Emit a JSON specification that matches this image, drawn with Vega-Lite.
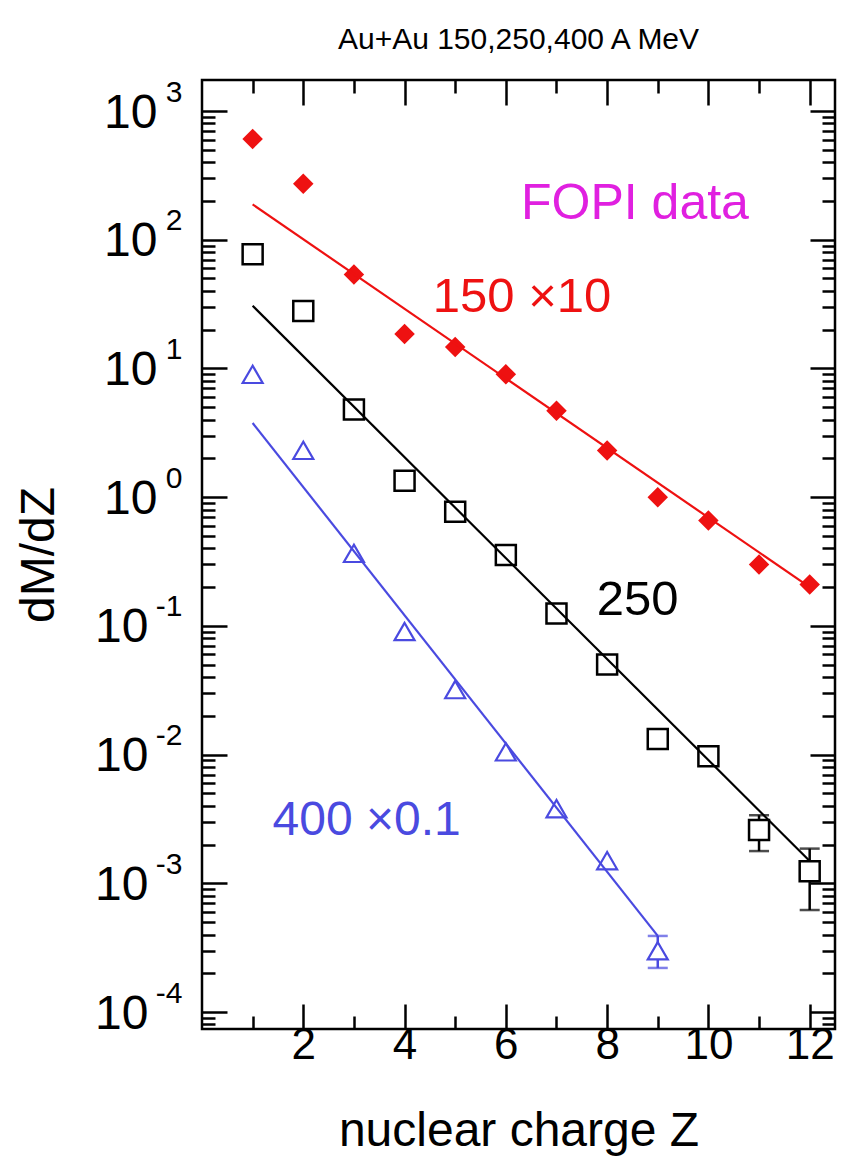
{
  "$schema": "https://vega.github.io/schema/vega-lite/v6.json",
  "width": 633,
  "height": 949,
  "autosize": {"type": "none"},
  "padding": {"left": 202, "top": 80, "right": 9, "bottom": 141},
  "background": "white",
  "title": {"text": "Au+Au 150,250,400 A MeV", "fontSize": 30, "font": "Liberation Sans", "fontWeight": "normal", "anchor": "middle", "offset": 22, "color": "black"},
  "config": {
    "view": {"stroke": "black", "strokeWidth": 2.5},
    "font": "Liberation Sans",
    "axis": {"domain": false, "grid": false, "tickColor": "black", "tickWidth": 2.5, "labelColor": "black", "labelFont": "Liberation Sans", "titleFont": "Liberation Sans", "titleColor": "black", "titleFontWeight": "normal", "labelFlush": false, "labelOverlap": false}
  },
  "datasets": {
    "pts": [
      {"s": "150", "Z": 1, "v": 607}, {"s": "150", "Z": 2, "v": 272}, {"s": "150", "Z": 3, "v": 53.8}, {"s": "150", "Z": 4, "v": 18.5},
      {"s": "150", "Z": 5, "v": 14.7}, {"s": "150", "Z": 6, "v": 9.0}, {"s": "150", "Z": 7, "v": 4.7}, {"s": "150", "Z": 8, "v": 2.3},
      {"s": "150", "Z": 9, "v": 1.0}, {"s": "150", "Z": 10, "v": 0.66}, {"s": "150", "Z": 11, "v": 0.30}, {"s": "150", "Z": 12, "v": 0.21},
      {"s": "250", "Z": 1, "v": 77}, {"s": "250", "Z": 2, "v": 28}, {"s": "250", "Z": 3, "v": 4.8}, {"s": "250", "Z": 4, "v": 1.34},
      {"s": "250", "Z": 5, "v": 0.77}, {"s": "250", "Z": 6, "v": 0.355}, {"s": "250", "Z": 7, "v": 0.125}, {"s": "250", "Z": 8, "v": 0.05},
      {"s": "250", "Z": 9, "v": 0.0132}, {"s": "250", "Z": 10, "v": 0.0097}, {"s": "250", "Z": 11, "v": 0.00259}, {"s": "250", "Z": 12, "v": 0.00124},
      {"s": "400", "Z": 1, "v": 9.0}, {"s": "400", "Z": 2, "v": 2.31}, {"s": "400", "Z": 3, "v": 0.366}, {"s": "400", "Z": 4, "v": 0.0904},
      {"s": "400", "Z": 5, "v": 0.032}, {"s": "400", "Z": 6, "v": 0.0105}, {"s": "400", "Z": 7, "v": 0.0038}, {"s": "400", "Z": 8, "v": 0.0015},
      {"s": "400", "Z": 9, "v": 0.000299}
    ],
    "fit": [
      {"s": "150", "Z": 1, "v": 188}, {"s": "150", "Z": 12, "v": 0.20},
      {"s": "250", "Z": 1, "v": 30.7}, {"s": "250", "Z": 12, "v": 0.00149},
      {"s": "400", "Z": 1, "v": 3.77}, {"s": "400", "Z": 9, "v": 0.00039}
    ],
    "err": [
      {"s": "250", "Z": 11, "lo": 0.00178, "hi": 0.00338},
      {"s": "250", "Z": 12, "lo": 0.00062, "hi": 0.00186},
      {"s": "400", "Z": 9, "lo": 0.00022, "hi": 0.00039}
    ],
    "one": [{}]
  },
  "resolve": {"axis": {"x": "independent", "y": "independent"}},
  "layer": [
    {
      "data": {"name": "err"},
      "mark": {"type": "rule", "strokeWidth": 2.5},
      "encoding": {
        "x": {"field": "Z", "type": "quantitative", "scale": {"type": "linear", "domain": [0, 12.5], "nice": false, "zero": false},
              "axis": {"orient": "bottom", "values": [2, 4, 6, 8, 10, 12], "tickSize": -25, "labelPadding": 19, "labelFontSize": 44, "title": "nuclear charge Z", "titleFontSize": 48, "titleX": 316.5, "titleY": 116, "titleBaseline": "alphabetic", "titleAlign": "center"}},
        "y": {"field": "lo", "type": "quantitative", "scale": {"type": "log", "domain": [0.0000738, 1742], "nice": false},
              "axis": {"orient": "left", "values": [0.0001, 0.001, 0.01, 0.1, 1, 10, 100, 1000], "tickSize": -25, "labels": false, "title": "dM/dZ", "titleFontSize": 48, "titleX": -149, "titleY": 474.5, "titleAngle": -90, "titleBaseline": "alphabetic", "titleAlign": "center"}},
        "y2": {"field": "hi"},
        "color": {"field": "s", "type": "nominal", "scale": {"domain": ["150", "250", "400"], "range": ["#ee1111", "#000000", "#4a4ae0"]}, "legend": null}
      }
    },
    {
      "data": {"name": "err"},
      "transform": [{"fold": ["lo", "hi"], "as": ["end", "val"]}],
      "mark": {"type": "tick", "orient": "horizontal", "size": 20, "thickness": 2.5},
      "encoding": {
        "x": {"field": "Z", "type": "quantitative", "scale": {"type": "linear", "domain": [0, 12.5], "nice": false, "zero": false},
              "axis": {"orient": "bottom", "values": [1, 3, 5, 7, 9, 11], "tickSize": -13, "labels": false, "title": null}},
        "y": {"field": "val", "type": "quantitative", "scale": {"type": "log", "domain": [0.0000738, 1742], "nice": false},
              "axis": {"orient": "left", "values": [0.00008, 0.00009, 0.0002, 0.0003, 0.0004, 0.0005, 0.0006, 0.0007, 0.0008, 0.0009, 0.002, 0.003, 0.004, 0.005, 0.006, 0.007, 0.008, 0.009, 0.02, 0.03, 0.04, 0.05, 0.06, 0.07, 0.08, 0.09, 0.2, 0.3, 0.4, 0.5, 0.6, 0.7, 0.8, 0.9, 2, 3, 4, 5, 6, 7, 8, 9, 20, 30, 40, 50, 60, 70, 80, 90, 200, 300, 400, 500, 600, 700, 800, 900], "tickSize": -13, "labels": false, "title": null}},
        "color": {"field": "s", "type": "nominal", "scale": {"domain": ["150", "250", "400"], "range": ["#ee1111", "#000000", "#4a4ae0"]}, "legend": null}
      }
    },
    {
      "data": {"name": "pts"},
      "transform": [{"filter": "datum.s === '150'"}],
      "mark": {"type": "point", "shape": "diamond", "filled": true, "color": "#ee1111", "size": 420, "opacity": 1},
      "encoding": {
        "x": {"field": "Z", "type": "quantitative", "scale": {"type": "linear", "domain": [0, 12.5], "nice": false, "zero": false},
              "axis": {"orient": "top", "values": [2, 4, 6, 8, 10, 12], "tickSize": -25, "labels": false, "title": null}},
        "y": {"field": "v", "type": "quantitative", "scale": {"type": "log", "domain": [0.0000738, 1742], "nice": false},
              "axis": {"orient": "right", "values": [0.0001, 0.001, 0.01, 0.1, 1, 10, 100, 1000], "tickSize": -25, "labels": false, "title": null}}
      }
    },
    {
      "data": {"name": "pts"},
      "transform": [{"filter": "datum.s === '250'"}],
      "mark": {"type": "point", "shape": "square", "filled": true, "fill": "white", "stroke": "black", "strokeWidth": 2.5, "size": 400, "opacity": 1},
      "encoding": {
        "x": {"field": "Z", "type": "quantitative", "scale": {"type": "linear", "domain": [0, 12.5], "nice": false, "zero": false},
              "axis": {"orient": "top", "values": [1, 3, 5, 7, 9, 11], "tickSize": -13, "labels": false, "title": null}},
        "y": {"field": "v", "type": "quantitative", "scale": {"type": "log", "domain": [0.0000738, 1742], "nice": false},
              "axis": {"orient": "right", "values": [0.00008, 0.00009, 0.0002, 0.0003, 0.0004, 0.0005, 0.0006, 0.0007, 0.0008, 0.0009, 0.002, 0.003, 0.004, 0.005, 0.006, 0.007, 0.008, 0.009, 0.02, 0.03, 0.04, 0.05, 0.06, 0.07, 0.08, 0.09, 0.2, 0.3, 0.4, 0.5, 0.6, 0.7, 0.8, 0.9, 2, 3, 4, 5, 6, 7, 8, 9, 20, 30, 40, 50, 60, 70, 80, 90, 200, 300, 400, 500, 600, 700, 800, 900], "tickSize": -13, "labels": false, "title": null}}
      }
    },
    {
      "data": {"name": "pts"},
      "transform": [{"filter": "datum.s === '400'"}],
      "mark": {"type": "point", "shape": "triangle-up", "filled": true, "fill": "white", "stroke": "#4a4ae0", "strokeWidth": 2.2, "size": 400, "opacity": 1},
      "encoding": {
        "x": {"field": "Z", "type": "quantitative", "scale": {"type": "linear", "domain": [0, 12.5], "nice": false, "zero": false}, "axis": null},
        "y": {"field": "v", "type": "quantitative", "scale": {"type": "log", "domain": [0.0000738, 1742], "nice": false},
              "axis": {"orient": "left", "values": [1, 10, 100, 1000], "ticks": false, "labelExpr": "'10'", "labelFontSize": 48, "labelPadding": 45, "labelBaseline": "middle", "labelOffset": 2, "title": null}}
      }
    },
    {
      "data": {"name": "fit"},
      "transform": [{"filter": "datum.s === '150'"}],
      "mark": {"type": "line", "color": "#ee1111", "strokeWidth": 2.2},
      "encoding": {
        "x": {"field": "Z", "type": "quantitative", "scale": {"type": "linear", "domain": [0, 12.5], "nice": false, "zero": false}, "axis": null},
        "y": {"field": "v", "type": "quantitative", "scale": {"type": "log", "domain": [0.0000738, 1742], "nice": false},
              "axis": {"orient": "left", "values": [0.0001, 0.001, 0.01, 0.1], "ticks": false, "labelExpr": "'10'", "labelFontSize": 48, "labelPadding": 54, "labelBaseline": "middle", "labelOffset": 2, "title": null}}
      }
    },
    {
      "data": {"name": "fit"},
      "transform": [{"filter": "datum.s === '250'"}],
      "mark": {"type": "line", "color": "#000000", "strokeWidth": 2.2},
      "encoding": {
        "x": {"field": "Z", "type": "quantitative", "scale": {"type": "linear", "domain": [0, 12.5], "nice": false, "zero": false}, "axis": null},
        "y": {"field": "v", "type": "quantitative", "scale": {"type": "log", "domain": [0.0000738, 1742], "nice": false},
              "axis": {"orient": "left", "values": [0.0001, 0.001, 0.01, 0.1, 1, 10, 100, 1000], "ticks": false, "labelExpr": "'' + round(log(datum.value) / LN10)", "labelFontSize": 30, "labelPadding": 20, "labelBaseline": "middle", "labelOffset": -19, "title": null}}
      }
    },
    {
      "data": {"name": "fit"},
      "transform": [{"filter": "datum.s === '400'"}],
      "mark": {"type": "line", "color": "#4a4ae0", "strokeWidth": 2.2},
      "encoding": {
        "x": {"field": "Z", "type": "quantitative", "scale": {"type": "linear", "domain": [0, 12.5], "nice": false, "zero": false}, "axis": null},
        "y": {"field": "v", "type": "quantitative", "scale": {"type": "log", "domain": [0.0000738, 1742], "nice": false}, "axis": null}
      }
    },
    {
      "data": {"name": "one"},
      "mark": {"type": "text", "text": "FOPI data", "color": "#e020e0", "fontSize": 50, "font": "Liberation Sans", "align": "center", "baseline": "middle"},
      "encoding": {
        "x": {"datum": 8.55, "type": "quantitative", "scale": {"type": "linear", "domain": [0, 12.5], "nice": false, "zero": false}, "axis": null},
        "y": {"datum": 190, "type": "quantitative", "scale": {"type": "log", "domain": [0.0000738, 1742], "nice": false}, "axis": null}
      }
    },
    {
      "data": {"name": "one"},
      "mark": {"type": "text", "text": "150 ×10", "color": "#ee1111", "fontSize": 49, "font": "Liberation Sans", "align": "center", "baseline": "middle"},
      "encoding": {
        "x": {"datum": 6.32, "type": "quantitative", "scale": {"type": "linear", "domain": [0, 12.5], "nice": false, "zero": false}, "axis": null},
        "y": {"datum": 35.6, "type": "quantitative", "scale": {"type": "log", "domain": [0.0000738, 1742], "nice": false}, "axis": null}
      }
    },
    {
      "data": {"name": "one"},
      "mark": {"type": "text", "text": "250", "color": "#000000", "fontSize": 49, "font": "Liberation Sans", "align": "center", "baseline": "middle"},
      "encoding": {
        "x": {"datum": 8.6, "type": "quantitative", "scale": {"type": "linear", "domain": [0, 12.5], "nice": false, "zero": false}, "axis": null},
        "y": {"datum": 0.159, "type": "quantitative", "scale": {"type": "log", "domain": [0.0000738, 1742], "nice": false}, "axis": null}
      }
    },
    {
      "data": {"name": "one"},
      "mark": {"type": "text", "text": "400 ×0.1", "color": "#4a4ae0", "fontSize": 48, "font": "Liberation Sans", "align": "center", "baseline": "middle"},
      "encoding": {
        "x": {"datum": 3.25, "type": "quantitative", "scale": {"type": "linear", "domain": [0, 12.5], "nice": false, "zero": false}, "axis": null},
        "y": {"datum": 0.00303, "type": "quantitative", "scale": {"type": "log", "domain": [0.0000738, 1742], "nice": false}, "axis": null}
      }
    }
  ]
}
